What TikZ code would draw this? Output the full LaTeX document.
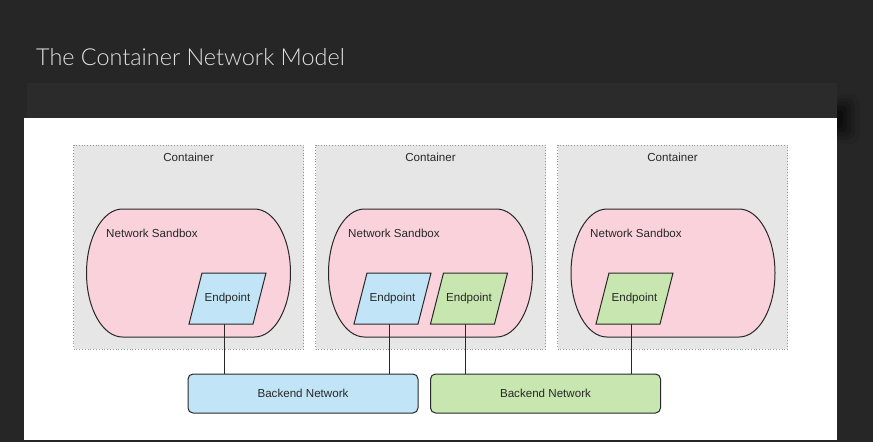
\documentclass[tikz,border=0pt]{standalone}
\usepackage{fontspec}
\setmainfont{Liberation Sans}
\newfontfamily\titlefont{Lato Light}
\definecolor{slide}{RGB}{38,38,38}
\definecolor{band}{RGB}{43,43,43}
\definecolor{ink}{RGB}{40,40,40}
\definecolor{dots}{RGB}{150,150,150}
\definecolor{boxgray}{RGB}{230,230,230}
\definecolor{sandpink}{RGB}{249,210,220}
\definecolor{netblue}{RGB}{193,228,246}
\definecolor{netgreen}{RGB}{200,230,175}
\begin{document}
\begin{tikzpicture}[x=1pt, y=-1pt,
    every node/.style={font=\fontsize{11.6}{13}\selectfont, text=ink},
    container/.style={draw=dots, dotted, line width=0.8pt, fill=boxgray, minimum width=230pt, minimum height=204pt},
    sandbox/.style={draw=ink, line width=1pt, fill=sandpink},
    endpoint/.style={minimum width=79pt, minimum height=53pt, inner sep=0pt,
      path picture={\draw[draw=ink, line width=1pt, fill=#1]
        ([xshift=14pt, yshift=-1pt]path picture bounding box.north west)
        -- ([xshift=-1pt, yshift=-1pt]path picture bounding box.north east)
        -- ([xshift=-14pt, yshift=1pt]path picture bounding box.south east)
        -- ([xshift=1pt, yshift=1pt]path picture bounding box.south west) -- cycle;}},
    backend/.style={draw=ink, line width=1pt, rounded corners=5pt, minimum width=230pt, minimum height=39pt},
    wire/.style={draw=ink, line width=1pt}]
      % slide
      \fill[slide] (0,0) rectangle (873,442);
      \fill[black, opacity=0.08, rounded corners=10pt] (834,94) rectangle (860,144);
      \fill[black, opacity=0.12, rounded corners=8pt] (834,98) rectangle (855,140);
      \fill[black, opacity=0.16, rounded corners=6pt] (834,102) rectangle (851,136);
      \fill[black, opacity=0.22, rounded corners=4pt] (834,106) rectangle (847,132);
      \fill[black, opacity=0.28, rounded corners=3pt] (834,110) rectangle (843,128);
      \fill[band] (27,83) rectangle (837,118);
      \fill[white] (24,118) rectangle (837,440);
      \node (T) at (36,57) [anchor=west, inner sep=0pt, text=white!88!black, font=\titlefont\fontsize{23.4}{28}\selectfont] {The Container Network Model};

      % containers
      \node (C1) at (188.5,247) [container] {};
      \node (C2) at (430.5,247) [container] {};
      \node (C3) at (672.5,247) [container] {};
      \node (L1) at (C1.north) [anchor=north, yshift=-5pt] {Container};
      \node (L2) at (C2.north) [anchor=north, yshift=-5pt] {Container};
      \node (L3) at (C3.north) [anchor=north, yshift=-5pt] {Container};

      % sandboxes
      \draw[sandbox] (122.5,209) -- (254.5,209) arc[start angle=-90, end angle=90, x radius=36, y radius=64]
        -- (122.5,337) arc[start angle=90, end angle=270, x radius=36, y radius=64] -- cycle;
      \draw[sandbox] (364.5,209) -- (496.5,209) arc[start angle=-90, end angle=90, x radius=36, y radius=64]
        -- (364.5,337) arc[start angle=90, end angle=270, x radius=36, y radius=64] -- cycle;
      \draw[sandbox] (607,209) -- (739,209) arc[start angle=-90, end angle=90, x radius=36, y radius=64]
        -- (607,337) arc[start angle=90, end angle=270, x radius=36, y radius=64] -- cycle;
      \node (S1) at (106,233) [anchor=west, inner sep=0pt] {Network Sandbox};
      \node (S2) at (348,233) [anchor=west, inner sep=0pt] {Network Sandbox};
      \node (S3) at (590,233) [anchor=west, inner sep=0pt] {Network Sandbox};

      % endpoints
      \node (E1) at (227.5,298.5) [endpoint=netblue] {Endpoint};
      \node (E2) at (392.5,298.5) [endpoint=netblue] {Endpoint};
      \node (E3) at (469,298.5) [endpoint=netgreen] {Endpoint};
      \node (E4) at (634.5,298.5) [endpoint=netgreen] {Endpoint};

      % backend networks
      \node (B1) at (303,393.5) [backend, fill=netblue] {Backend Network};
      \node (B2) at (545.5,393.5) [backend, fill=netgreen] {Backend Network};

      \draw[wire] ([xshift=-3.5pt, yshift=1pt]E1.south) -- ([xshift=-3.5pt]E1.south |- B1.north);
      \draw[wire] ([xshift=-3.5pt, yshift=1pt]E2.south) -- ([xshift=-3.5pt]E2.south |- B1.north);
      \draw[wire] ([xshift=-3.5pt, yshift=1pt]E3.south) -- ([xshift=-3.5pt]E3.south |- B2.north);
      \draw[wire] ([xshift=-3.5pt, yshift=1pt]E4.south) -- ([xshift=-3.5pt]E4.south |- B2.north);
\end{tikzpicture}
\end{document}
